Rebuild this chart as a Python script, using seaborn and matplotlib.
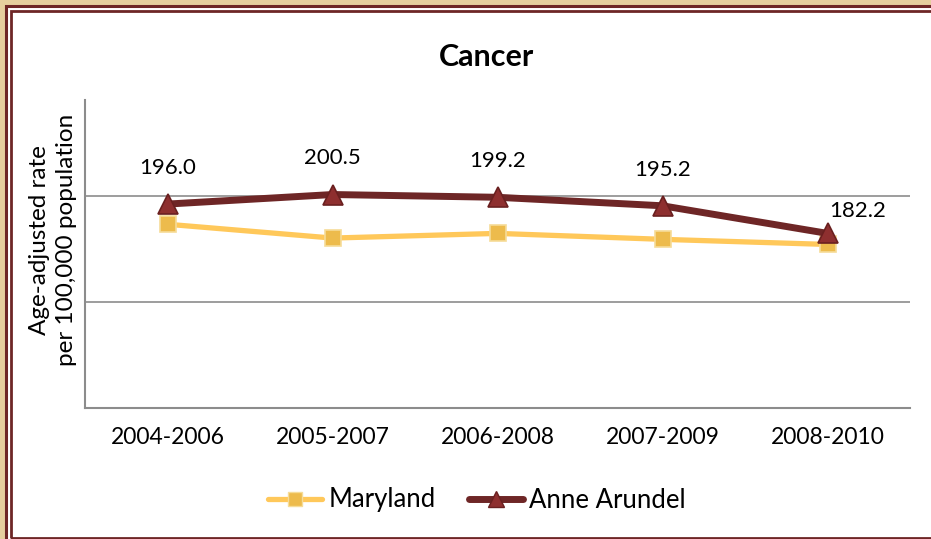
import matplotlib
matplotlib.use("Agg")
import matplotlib.pyplot as plt
from matplotlib.patches import Rectangle
from matplotlib.lines import Line2D
import seaborn as sns
import pandas as pd

# data
periods = ["2004-2006", "2005-2007", "2006-2008", "2007-2009", "2008-2010"]
maryland = [186.5, 180.0, 182.2, 179.4, 177.0]
anne_arundel = [196.0, 200.5, 199.2, 195.2, 182.2]
series_names = ["Maryland", "Anne Arundel"]

W, H = 931, 539
BEIGE = "#E6CF9E"
DARK_RED = "#6E2626"
GOLD = "#FFC85A"
GRID = "#8C8C8C"

sns.set_theme(style="white")
plt.rcParams["font.family"] = ["Lato", "DejaVu Sans"]
plt.rcParams["text.color"] = "black"
plt.rcParams["xtick.color"] = "black"

fig = plt.figure(figsize=(W / 100, H / 100), dpi=100, facecolor=BEIGE)


def px(x, y):
    """pixel (from top-left) to figure fraction"""
    return x / W, 1 - y / H


# double frame around the chart (kept behind the axes)
x0, y0 = px(5.5, 5.5)
fig.patches.append(Rectangle((x0, -0.1), 1.2, y0 + 0.1, transform=fig.transFigure,
                             facecolor="white", edgecolor=DARK_RED, lw=2.2, zorder=-10))
x1, y1 = px(10.5, 10.5)
_, yb = px(0, 537.5)
fig.patches.append(Rectangle((x1, yb), 1.2, y1 - yb, transform=fig.transFigure,
                             facecolor="none", edgecolor=DARK_RED, lw=2.0, zorder=-9))

left, top = px(85, 100)
right, bottom = px(910, 408)
ax = fig.add_axes([left, bottom, right - left, top - bottom])
ax.set_facecolor("none")

df = pd.DataFrame({
    "period": periods * 2,
    "pos": list(range(len(periods))) * 2,
    "rate": maryland + anne_arundel,
    "area": [series_names[0]] * len(periods) + [series_names[1]] * len(periods),
})

sns.lineplot(data=df[df["area"] == "Maryland"], x="pos", y="rate", ax=ax,
             color=GOLD, lw=3.8, marker="s", markersize=11,
             markerfacecolor="#EDBB4C", markeredgecolor="#F6DC98",
             markeredgewidth=1.2, zorder=3, legend=False)
sns.lineplot(data=df[df["area"] == "Anne Arundel"], x="pos", y="rate", ax=ax,
             color=DARK_RED, lw=5.0, marker="^", markersize=14,
             markerfacecolor="#8E2F2F", markeredgecolor="#6A2020",
             markeredgewidth=1.2, zorder=4, legend=False)

# data labels for Anne Arundel
offsets = [(0, 26), (0, 26), (0, 26), (0, 26), (22, 16)]
for i, v in enumerate(anne_arundel):
    ax.annotate(f"{v:.1f}", (i, v), xytext=offsets[i], textcoords="offset points",
                ha="center", va="center", fontsize=16, color="black")

ax.set_xlim(-0.5, len(periods) - 0.5)
ax.set_ylim(100, 245)
ax.set_yticks([150, 200])
ax.set_yticklabels([])
ax.tick_params(axis="y", length=0)
ax.set_xticks(range(len(periods)))
ax.set_xticklabels(periods, fontsize=16.5)
ax.tick_params(axis="x", length=0, pad=14)
ax.yaxis.grid(True, color=GRID, lw=1.2)
ax.set_axisbelow(True)
ax.set_xlabel("")
ax.set_ylabel("")
for side in ["top", "right"]:
    ax.spines[side].set_visible(False)
for side in ["left", "bottom"]:
    ax.spines[side].set_color(GRID)
    ax.spines[side].set_linewidth(1.5)

tx, ty = px(487, 57)
fig.text(tx, ty, "Cancer", ha="center", va="center", fontsize=22, fontweight="bold")
lx, ly = px(53, 240)
fig.text(lx, ly, "Age-adjusted rate\nper 100,000 population", rotation=90,
         ha="center", va="center", multialignment="center", fontsize=17.5,
         linespacing=1.3)

handles = [
    Line2D([], [], color=GOLD, lw=3.8, marker="s", markersize=10,
           markerfacecolor="#EDBB4C", markeredgecolor="#F6DC98"),
    Line2D([], [], color=DARK_RED, lw=5.0, marker="^", markersize=11,
           markerfacecolor="#8E2F2F", markeredgecolor="#6A2020"),
]
gx, gy = px(477, 500)
fig.legend(handles, series_names, loc="center", bbox_to_anchor=(gx, gy), ncol=2,
           frameon=False, fontsize=18.5, handlelength=2.1, handletextpad=0.25,
           columnspacing=1.3)

fig.savefig("out.png", dpi=100, facecolor=BEIGE)
